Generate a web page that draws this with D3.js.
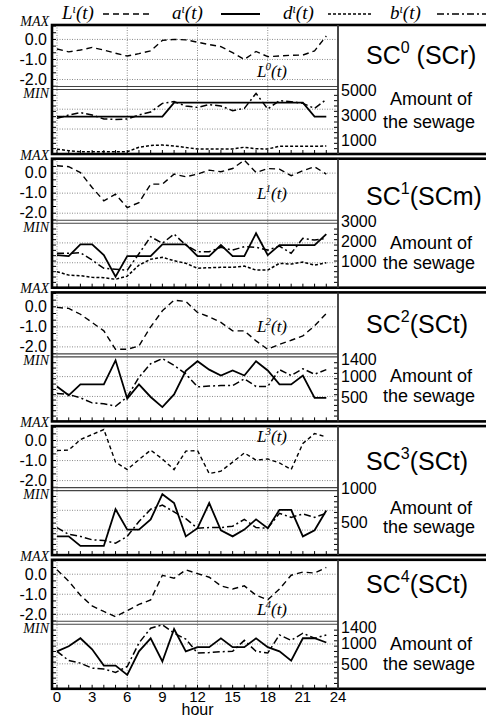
<!DOCTYPE html>
<html>
<head>
<meta charset="utf-8">
<script src="https://d3js.org/d3.v7.min.js"></script>
<style>
  body { margin: 0; background: #fff; }
  .serif { font-family: "Liberation Serif", "DejaVu Serif", serif; font-style: italic; }
  .sans { font-family: "Liberation Sans", Arial, sans-serif; }
</style>
</head>
<body>
<div id="chart"></div>
<script>
// ---- data ----
const hours = d3.range(24);
const xTickVals = d3.range(0, 25, 3);
const lTickVals = [0, -1, -2];
const lTickText = ["0.0", "-1.0", "-2.0"];

const panelSup = ["0", "1", "2", "3", "4"];
const panelKind = ["SCr", "SCm", "SCt", "SCt", "SCt"];

// L^i(t)
const L0 = [-0.48,-0.62,-0.53,-0.40,-0.53,-0.69,-0.83,-0.71,-0.57,-0.05,0.00,-0.02,-0.14,-0.26,-0.36,-0.66,-1.00,-0.60,-0.86,-0.83,-0.79,-0.78,-0.57,0.17];
const L1 = [0.37,0.32,0.03,-0.72,-1.38,-1.05,-1.72,-1.47,-0.55,-0.55,-0.05,-0.18,-0.05,0.15,0.07,0.23,0.65,0.03,0.23,0.20,-0.13,0.12,0.32,-0.05];
const L2 = [-0.03,-0.08,-0.37,-0.78,-1.20,-2.12,-2.12,-1.95,-1.00,-0.20,0.33,0.27,-0.28,-0.50,-0.78,-1.20,-1.20,-1.70,-2.12,-1.87,-1.67,-1.45,-0.95,-0.33];
const L3 = [-0.50,-0.48,0.05,0.30,0.55,-1.08,-1.45,-0.95,-0.48,-0.92,-1.45,-0.53,-0.50,-1.65,-1.53,-1.08,-0.62,-0.98,-0.92,-1.12,-1.45,-0.15,0.35,0.18];
const L4 = [0.22,-0.35,-1.05,-1.58,-1.86,-2.12,-1.82,-1.51,-1.28,-0.05,-0.20,0.22,0.03,-0.15,-0.58,-0.74,-0.58,-1.05,-1.28,-0.74,-0.05,0.11,0.06,0.34];

// a^i(t)
const a0 = [2870,2870,2870,2870,2870,2870,2870,2870,2870,2870,3990,3990,3990,3990,3990,3990,3990,3990,3990,3990,3990,3990,2870,2870];
const a1 = [1330,1280,1870,1870,1330,250,1280,1280,1280,1870,1870,1870,1280,1280,1830,1280,1280,2420,1330,1830,1830,1830,1830,2380];
const a2 = [760,550,810,810,810,1380,470,810,510,270,570,1130,1360,1160,1020,1140,1020,1360,1140,810,810,1020,490,490];
const a3 = [290,290,150,150,150,690,390,390,540,910,780,290,410,780,380,290,390,540,410,680,680,290,380,670];
const a4 = [820,940,1130,870,480,480,260,820,1130,580,1350,820,920,920,1130,920,920,1130,920,820,600,1130,1130,1030];

// b^i(t)
const b0 = [2730,3000,3190,3000,2680,2650,2680,3000,3240,3930,4070,3720,3610,3830,3720,3350,3530,4730,3480,4150,4070,3930,3530,4250];
const b1 = [1420,1420,1450,1080,670,620,580,1400,2250,1920,2380,1830,1500,1500,1720,1580,1750,1720,1580,1780,1420,2170,2080,2170];
const b2 = [590,570,490,370,350,290,510,980,1300,1420,1260,1060,750,770,780,780,940,760,760,1160,1020,1180,1050,1160];
const b3 = [420,320,290,240,230,190,290,510,690,750,650,550,410,420,420,440,540,420,410,630,570,620,570,630];
const b4 = [820,600,540,420,400,320,460,1020,1370,1450,1250,1110,780,790,810,820,1080,820,780,1210,1080,1250,1130,1210];

// d^i(t)
const d0 = [260,150,60,60,60,60,60,420,560,600,520,400,280,280,280,280,420,300,280,500,500,500,500,520];
const d1 = [500,330,300,220,200,120,280,830,1120,1220,1050,920,670,700,720,720,780,580,580,920,880,980,830,950];

const Ls = [L0, L1, L2, L3, L4];
const As = [a0, a1, a2, a3, a4];
const Bs = [b0, b1, b2, b3, b4];
const Ds = [d0, d1, null, null, null];

const amtTicks = [[5000, 3000, 1000], [3000, 2000, 1000], [1400, 1000, 500], [1000, 500], [1400, 1000, 500]];
const amtDomains = [[-120, 5000], [-300, 2900], [-70, 1450], [15, 956], [-70, 1450]];

// ---- layout ----
const W = 486, H = 719;
const left = 52, plotRight = 338;
const panelH = 129, panelStep = 133.7, firstTop = 25;
const lH = 62, amtTop = 65;
const titleDy = [39, 46, 41, 44, 33];
const amtTextDy = [[80, 103], [90, 110], [90, 110], [88, 107], [90, 110]];
const lLabelDy = [52, 40, 40, 16, 55];

const svg = d3.select("#chart").append("svg")
  .attr("width", W).attr("height", H);

const x = d3.scaleLinear().domain([0, 24]).range([57, plotRight]);

const gridStyle = s => s.attr("stroke", "#8a8a8a").attr("stroke-width", 1).attr("stroke-dasharray", "1,1.5");

// legend
const legend = [
  { sym: "L", x: 62, lx: [103, 153], dash: "6,4", w: 1.4 },
  { sym: "a", x: 172, lx: [221, 260], dash: null, w: 1.8 },
  { sym: "d", x: 283, lx: [328, 371], dash: "3,2", w: 1.4 },
  { sym: "b", x: 390, lx: [437, 486], dash: "7,3,2,3", w: 1.4 }
];
legend.forEach(l => {
  const t = svg.append("text").attr("class", "serif").attr("x", l.x).attr("y", 19).attr("font-size", 19);
  t.append("tspan").text(l.sym);
  t.append("tspan").attr("font-size", 12).attr("dy", -6).text("ι");
  t.append("tspan").attr("dy", 6).text("(t)");
  svg.append("line").attr("x1", l.lx[0]).attr("x2", l.lx[1]).attr("y1", 14).attr("y2", 14)
    .attr("stroke", "#000").attr("stroke-width", l.w).attr("stroke-dasharray", l.dash);
});

Ls.forEach((L, i) => {
  const T = firstTop + i * panelStep;
  const g = svg.append("g");
  const yL = d3.scaleLinear().domain([-2.35, 0.72]).range([T + lH - 0.5, T]);
  const yA = d3.scaleLinear().domain(amtDomains[i]).range([T + panelH, T + amtTop]);
  const frame = d3.scaleLinear().domain([0, 1]).range([T + panelH, T + amtTop]);

  // grids
  g.selectAll(".vg").data([0, 6, 12, 18]).join("line")
    .attr("x1", d => x(d)).attr("x2", d => x(d)).attr("y1", T).attr("y2", T + panelH).call(gridStyle);
  g.selectAll(".lg").data(lTickVals).join("line")
    .attr("x1", left).attr("x2", plotRight).attr("y1", d => yL(d)).attr("y2", d => yL(d)).call(gridStyle);
  g.selectAll(".ag").data([0.39, 0.70]).join("line")
    .attr("x1", left).attr("x2", plotRight).attr("y1", d => frame(d)).attr("y2", d => frame(d)).call(gridStyle);

  // small ticks
  g.selectAll(".bt").data(hours.concat([24])).join("line")
    .attr("x1", d => x(d)).attr("x2", d => x(d)).attr("y1", T + panelH).attr("y2", T + panelH - 4)
    .attr("stroke", "#000").attr("stroke-width", 1);
  g.selectAll(".lt").data(d3.range(-7, 3).map(k => k / 3)).join("line")
    .attr("x1", left).attr("x2", left + 4).attr("y1", d => yL(d)).attr("y2", d => yL(d))
    .attr("stroke", "#000").attr("stroke-width", 1);
  g.selectAll(".rt").data(d3.range(1, 12).map(k => k / 12)).join("line")
    .attr("x1", plotRight).attr("x2", plotRight - 4).attr("y1", d => frame(d)).attr("y2", d => frame(d))
    .attr("stroke", "#000").attr("stroke-width", 1);
  g.selectAll(".alt").data(d3.range(1, 12).map(k => k / 12)).join("line")
    .attr("x1", left).attr("x2", left + 4).attr("y1", d => frame(d)).attr("y2", d => frame(d))
    .attr("stroke", "#000").attr("stroke-width", 1);

  // double separator
  [T + lH - 0.5, T + lH + 2.5].forEach(yy => {
    g.append("line").attr("x1", left).attr("x2", plotRight).attr("y1", yy).attr("y2", yy)
      .attr("stroke", "#444").attr("stroke-width", 1.1);
  });

  // series
  const lineL = d3.line().x((d, j) => x(hours[j])).y(d => yL(d));
  const lineA = d3.line().x((d, j) => x(hours[j])).y(d => yA(d));
  g.append("path").attr("d", lineL(L)).attr("fill", "none").attr("stroke", "#000")
    .attr("stroke-width", 1.4).attr("stroke-dasharray", i === 3 ? "4,3" : "6,4");
  if (Ds[i]) g.append("path").attr("d", lineA(Ds[i])).attr("fill", "none").attr("stroke", "#000")
    .attr("stroke-width", 1.5).attr("stroke-dasharray", "3,2");
  g.append("path").attr("d", lineA(Bs[i])).attr("fill", "none").attr("stroke", "#000")
    .attr("stroke-width", 1.5).attr("stroke-dasharray", "7,3,2,3");
  g.append("path").attr("d", lineA(As[i])).attr("fill", "none").attr("stroke", "#000")
    .attr("stroke-width", 1.8).attr("stroke-linejoin", "miter");

  // frame
  g.append("rect").attr("x", left).attr("y", T).attr("width", W + 10 - left).attr("height", panelH)
    .attr("fill", "none").attr("stroke", "#000").attr("stroke-width", 2.6);
  g.append("line").attr("x1", plotRight).attr("x2", plotRight).attr("y1", T).attr("y2", T + panelH)
    .attr("stroke", "#333").attr("stroke-width", 1.8);

  // left labels
  g.append("text").attr("class", "serif").attr("x", 49).attr("y", T + 1)
    .attr("text-anchor", "end").attr("font-size", 14).text("MAX");
  g.append("text").attr("class", "serif").attr("x", 49).attr("y", T + lH + 11)
    .attr("text-anchor", "end").attr("font-size", 14).text("MIN");
  g.selectAll(".ln").data(lTickVals).join("text").attr("class", "sans")
    .attr("x", 47).attr("y", d => yL(d)).attr("dy", "0.33em").attr("text-anchor", "end")
    .attr("font-size", 16).text((d, k) => lTickText[k]);

  // L label in plot
  const ll = g.append("text").attr("class", "serif").attr("x", 257).attr("y", T + lLabelDy[i]).attr("font-size", 17);
  ll.append("tspan").text("L");
  ll.append("tspan").attr("font-size", 11).attr("dy", -7).attr("dx", -1).text(panelSup[i]);
  ll.append("tspan").attr("dy", 7).text("(t)");

  // right axis labels
  g.selectAll(".rn").data(amtTicks[i]).join("text").attr("class", "sans")
    .attr("x", 341).attr("y", d => yA(d)).attr("dy", "0.35em").attr("font-size", 16).text(d => d);

  // title
  const tt = g.append("text").attr("class", "sans").attr("x", 366).attr("y", T + titleDy[i]).attr("font-size", 25);
  tt.append("tspan").text("SC");
  tt.append("tspan").attr("font-size", 16).attr("dy", -11).text(panelSup[i]);
  tt.append("tspan").attr("dy", 11).text(i === 0 ? " (SCr)" : "(" + panelKind[i] + ")");

  g.append("text").attr("class", "sans").attr("x", 431).attr("y", T + amtTextDy[i][0])
    .attr("text-anchor", "middle").attr("font-size", 18).text("Amount of");
  g.append("text").attr("class", "sans").attr("x", 429).attr("y", T + amtTextDy[i][1])
    .attr("text-anchor", "middle").attr("font-size", 18).text("the sewage");

  if (i === Ls.length - 1) {
    g.selectAll(".xn").data(xTickVals).join("text").attr("class", "sans")
      .attr("x", d => x(d)).attr("y", T + panelH + 13).attr("text-anchor", "middle")
      .attr("font-size", 15).text(d => d);
    g.append("text").attr("class", "sans").attr("x", x(12)).attr("y", T + panelH + 26)
      .attr("text-anchor", "middle").attr("font-size", 16).text("hour");
  }
});
</script>
</body>
</html>
